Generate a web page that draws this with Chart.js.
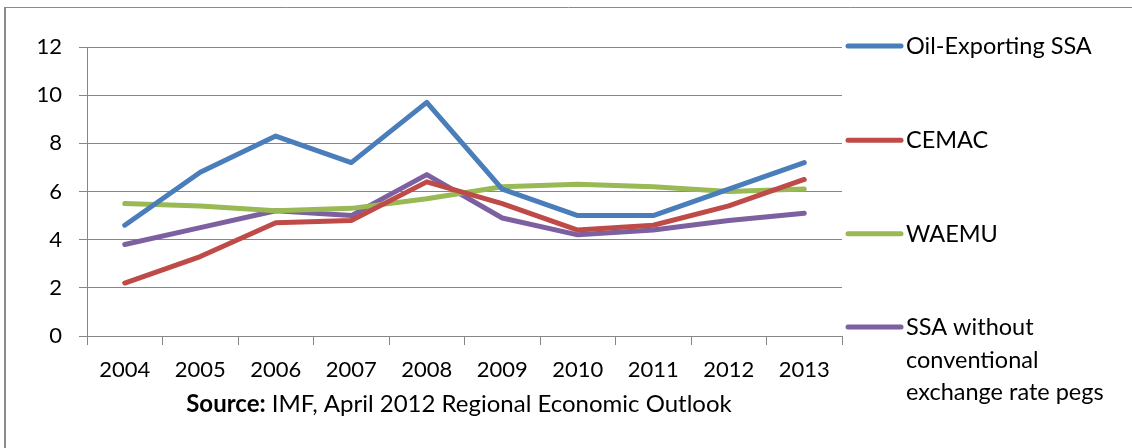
<!DOCTYPE html>
<html><head><meta charset="utf-8">
<script src="https://cdn.jsdelivr.net/npm/chart.js@4.4.1/dist/chart.umd.min.js"></script>
<style>html,body{margin:0;padding:0;background:#fff;}#wrap{width:1132px;height:448px;position:relative;}</style>
</head><body><div id="wrap"><canvas id="c" width="1132" height="448"></canvas></div>
<script>
const categories = ['2004','2005','2006','2007','2008','2009','2010','2011','2012','2013'];
const oilExporting = [4.6, 6.8, 8.3, 7.2, 9.7, 6.1, 5.0, 5.0, 6.1, 7.2];
const cemac        = [2.2, 3.3, 4.7, 4.8, 6.4, 5.5, 4.4, 4.6, 5.4, 6.5];
const waemu        = [5.5, 5.4, 5.2, 5.3, 5.7, 6.2, 6.3, 6.2, 6.0, 6.1];
const ssaNoPegs    = [3.8, 4.5, 5.2, 5.0, 6.7, 4.9, 4.2, 4.4, 4.8, 5.1];
const yTicks = [0, 2, 4, 6, 8, 10, 12];
const seriesLabels = ['Oil-Exporting SSA', 'CEMAC', 'WAEMU', ['SSA without', 'conventional', 'exchange rate pegs']];
const seriesColors = ['#4A7EBB', '#BE4B48', '#98B954', '#7D60A0'];
const sourceBold = 'Source:';
const sourceText = ' IMF, April 2012 Regional Economic Outlook';

const FONT = 'Lato, "Open Sans", sans-serif';
const GRID = '#868686';

const framePlugin = {
  id: 'frame',
  beforeDraw(chart) {
    const ctx = chart.ctx;
    ctx.save();
    ctx.fillStyle = '#fff';
    ctx.fillRect(0, 0, chart.width, chart.height);
    ctx.strokeStyle = '#8a8a8a';
    ctx.lineWidth = 1;
    ctx.beginPath(); ctx.moveTo(5, 7.5); ctx.lineTo(chart.width, 7.5); ctx.stroke();
    ctx.lineWidth = 2;
    ctx.beginPath(); ctx.moveTo(5, 7); ctx.lineTo(5, chart.height); ctx.stroke();
    ctx.restore();
  },
  afterDraw(chart) {
    const ctx = chart.ctx;
    ctx.save();
    // legend
    const rowBase = [54, 148.3, 241.7, 335];
    const lh = 32.5;
    chart.data.datasets.forEach((ds, i) => {
      const yb = rowBase[i];
      ctx.strokeStyle = ds.borderColor;
      ctx.lineWidth = 5;
      ctx.lineCap = 'round';
      ctx.beginPath(); ctx.moveTo(848, yb - 8); ctx.lineTo(901, yb - 8); ctx.stroke();
      ctx.fillStyle = '#000';
      ctx.font = '23.5px ' + FONT;
      ctx.textBaseline = 'alphabetic';
      ctx.textAlign = 'left';
      const lines = Array.isArray(ds.label) ? ds.label : [ds.label];
      lines.forEach((t, j) => ctx.fillText(t, 906, yb + j * lh));
    });
    // source
    ctx.font = 'bold 24px ' + FONT;
    const w1 = ctx.measureText(sourceBold).width;
    ctx.font = '24px ' + FONT;
    const w2 = ctx.measureText(sourceText).width;
    const cx = 459;
    const x0 = cx - (w1 + w2) / 2;
    ctx.fillStyle = '#000';
    ctx.font = 'bold 24px ' + FONT;
    ctx.fillText(sourceBold, x0, 412);
    ctx.font = '24px ' + FONT;
    ctx.fillText(sourceText, x0 + w1, 412);
    ctx.restore();
  }
};

const mk = (label, data, color) => ({
  label, data, borderColor: color, backgroundColor: color,
  borderWidth: 5, pointRadius: 0, pointHoverRadius: 0, tension: 0,
  borderCapStyle: 'round', borderJoinStyle: 'round', fill: false
});

new Chart(document.getElementById('c'), {
  type: 'line',
  data: {
    labels: categories,
    datasets: [
      mk(seriesLabels[0], oilExporting, seriesColors[0]),
      mk(seriesLabels[1], cemac, seriesColors[1]),
      mk(seriesLabels[2], waemu, seriesColors[2]),
      mk(seriesLabels[3], ssaNoPegs, seriesColors[3])
    ]
  },
  options: {
    responsive: false,
    animation: false,
    devicePixelRatio: 1,
    layout: { padding: { top: 47, right: 290, left: 0, bottom: 0 } },
    plugins: { legend: { display: false }, tooltip: { enabled: false } },
    scales: {
      x: {
        offset: true,
        afterFit: s => { s.height = 112; },
        grid: { offset: true, drawOnChartArea: false, drawTicks: true, tickLength: 9, color: GRID, lineWidth: 1 },
        border: { display: true, color: GRID, width: 1 },
        ticks: { font: { family: FONT, size: 22 }, color: '#000', padding: 12, maxRotation: 0, autoSkip: false }
      },
      y: {
        min: 0, max: 12,
        afterFit: s => { s.width = 87; },
        afterBuildTicks: s => { s.ticks = yTicks.map(v => ({ value: v })); },
        grid: { color: GRID, lineWidth: 1, drawTicks: true, tickLength: 8 },
        border: { display: true, color: GRID, width: 1 },
        ticks: { font: { family: FONT, size: 22 }, color: '#000', padding: 17 }
      }
    }
  },
  plugins: [framePlugin]
});
</script></body></html>
